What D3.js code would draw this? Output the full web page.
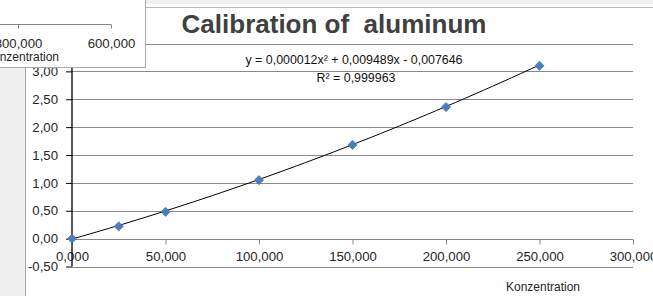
<!DOCTYPE html>
<html><head><meta charset="utf-8">
<script src="https://cdn.jsdelivr.net/npm/d3@7"></script>
<style>
html,body{margin:0;padding:0;background:#fff;overflow:hidden}
svg{display:block}
text{font-family:"Liberation Sans",Arial,sans-serif}
</style></head>
<body>
<svg id="c" width="653" height="296"></svg>
<script>
// ---- data ----
const title = "Calibration of  aluminum";
const xAxisTitle = "Konzentration";
const concentrations = [0, 25, 50, 100, 150, 200, 250];
const absorbance = [0.00, 0.22, 0.48, 1.05, 1.68, 2.36, 3.10];
const xTicks = [0, 50, 100, 150, 200, 250, 300];
const yTicks = [-0.5, 0, 0.5, 1.0, 1.5, 2.0, 2.5, 3.0, 3.5];
const trendCoefficients = [0.000012, 0.009489, -0.007646]; // a x^2 + b x + c
const equationLabel = "y = 0,000012x² + 0,009489x - 0,007646";
const r2Label = "R² = 0,999963";
// background window (partially hidden chart)
const bgTicks = [300, 600];

const loc = d3.formatLocale({decimal:",", thousands:".", grouping:[3], currency:["",""], minus:"-"});
const fx = loc.format(".3f"), fy = loc.format(".2f");

const svg = d3.select("#c");
svg.append("rect").attr("width",653).attr("height",296).attr("fill","#fff");

// window chrome
svg.append("rect").attr("x",145).attr("y",0).attr("width",508).attr("height",4).attr("fill","#f0f0f0");
svg.append("line").attr("x1",145).attr("x2",653).attr("y1",7.5).attr("y2",7.5).attr("stroke","#b8b8b8");
svg.append("rect").attr("x",0).attr("y",60).attr("width",25).attr("height",236).attr("fill","#f0f0f0");
svg.append("line").attr("x1",25.5).attr("x2",25.5).attr("y1",60).attr("y2",296).attr("stroke","#a8a8a8");

const x = d3.scaleLinear().domain([0,300]).range([72,633]);
const y = d3.scaleLinear().domain([-0.5,3.5]).range([266.5,43.5]);

const g = svg.append("g");
// gridlines
g.selectAll(".grid").data(yTicks.filter(d=>d!==0)).join("line")
  .attr("x1",x(0)).attr("x2",x(300))
  .attr("y1",d=>Math.round(y(d))+0.5).attr("y2",d=>Math.round(y(d))+0.5)
  .attr("stroke","#8a8a8a").attr("stroke-width",1);

// x axis at y=0
const xAxis = d3.axisBottom(x).tickValues(xTicks).tickFormat(fx).tickSize(5).tickPadding(7);
const xa = g.append("g").attr("transform",`translate(0,${Math.round(y(0))+0.5})`).call(xAxis);
xa.select(".domain").attr("stroke","#868686").attr("d",`M${x(0)},0H${x(300)}`);
xa.selectAll(".tick line").attr("stroke","#868686");
xa.selectAll(".tick text").attr("font-size",13.2).attr("fill","#262626")
  .attr("font-family","Liberation Sans, Arial, sans-serif");

// y axis
const yAxis = d3.axisLeft(y).tickValues(yTicks).tickFormat(fy).tickSize(6).tickPadding(8);
const ya = g.append("g").attr("transform",`translate(${x(0)},0)`).call(yAxis);
ya.select(".domain").attr("stroke","#000").attr("stroke-width",1.3).attr("d",`M0,${y(3.5)}V${y(-0.5)}`);
ya.selectAll(".tick line").attr("stroke","#000");
ya.selectAll(".tick text").attr("font-size",13.2).attr("fill","#262626")
  .attr("font-family","Liberation Sans, Arial, sans-serif");

// trendline from displayed equation
const [a,b,c] = trendCoefficients;
const tx = d3.range(0, 251, 5);
g.append("path").datum(tx)
  .attr("d", d3.line().x(d=>x(d)).y(d=>y(a*d*d + b*d + c)))
  .attr("fill","none").attr("stroke","#000").attr("stroke-width",1);

// markers
g.selectAll(".pt").data(concentrations).join("path")
  .attr("d", d3.symbol(d3.symbolDiamond2, 54))
  .attr("transform",(d,i)=>`translate(${x(d)},${y(absorbance[i])})`)
  .attr("fill","#4a7ebb").attr("stroke","#3d6fa8").attr("stroke-width",0.6);

// title
svg.append("text").attr("x",334).attr("y",33).attr("text-anchor","middle")
  .attr("font-size",26).attr("font-weight","bold").attr("fill","#404040")
  .attr("xml:space","preserve").style("white-space","pre").text(title);

// equation
svg.append("text").attr("x",354).attr("y",64).attr("text-anchor","middle")
  .attr("font-size",12.4).attr("fill","#111").text(equationLabel);
svg.append("text").attr("x",356).attr("y",82).attr("text-anchor","middle")
  .attr("font-size",12.4).attr("fill","#111").text(r2Label);

// axis title
svg.append("text").attr("x",543).attr("y",291).attr("text-anchor","middle")
  .attr("font-size",12).attr("fill","#262626").text(xAxisTitle);

// overlapping background chart window (top-left)
const box = svg.append("g");
box.append("rect").attr("x",-2).attr("y",-2).attr("width",147.5).attr("height",69.5)
  .attr("fill","#fff").attr("stroke","#a8a8a8").attr("stroke-width",1);
const bx = d3.scaleLinear().domain([300,600]).range([18,111]);
const bxa = box.append("g").attr("transform","translate(0,24.5)")
  .call(d3.axisBottom(bx).tickValues(bgTicks).tickFormat(fx).tickSize(4).tickPadding(10));
bxa.select(".domain").attr("stroke","#868686").attr("d",`M0,0H${bx(600)}`);
bxa.selectAll(".tick line").attr("stroke","#868686");
bxa.selectAll(".tick text").attr("font-size",13.2).attr("fill","#262626")
  .attr("font-family","Liberation Sans, Arial, sans-serif");
box.append("text").attr("x",22).attr("y",61).attr("text-anchor","middle")
  .attr("font-size",12).attr("fill","#262626").text(xAxisTitle);
</script>
</body></html>
